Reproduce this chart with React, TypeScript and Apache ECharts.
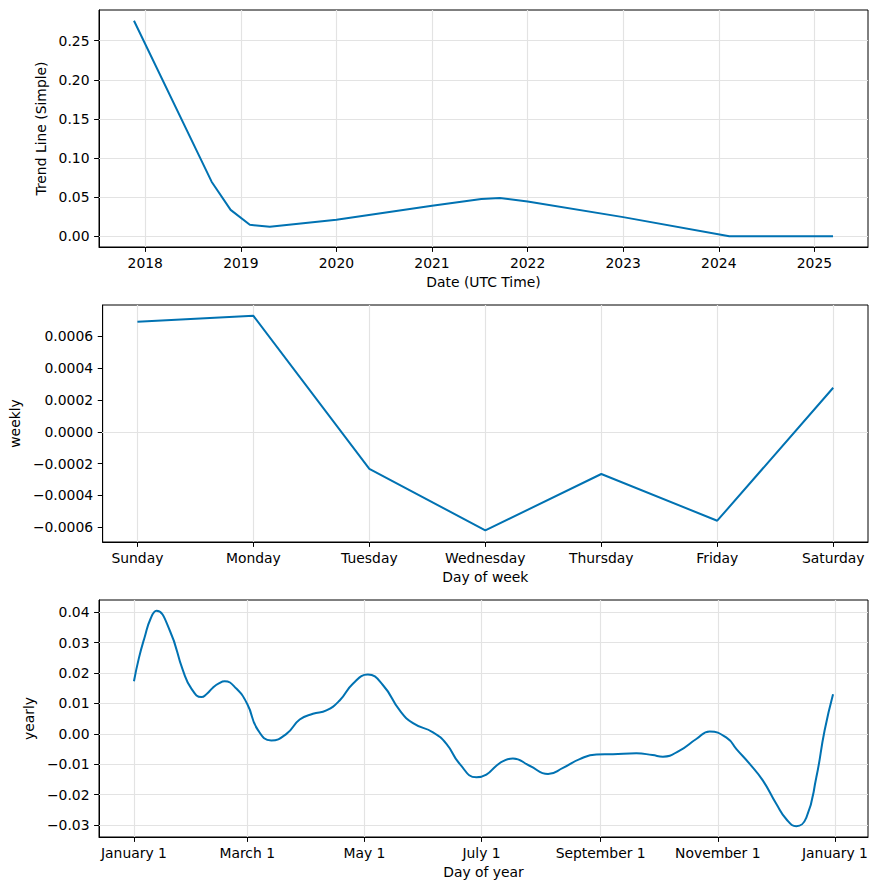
import React, { useEffect, useRef } from 'react';
import * as echarts from 'echarts';

// ---- Trend (top) ----
const trendYears = [2017.882, 2018.694, 2018.893, 2019.094, 2019.303, 2020.0, 2021.0, 2021.516, 2021.71, 2022.0, 2023.0, 2024.11, 2025.195];
const trendValues = [0.2754, 0.0697, 0.0337, 0.0146, 0.0121, 0.021, 0.0388, 0.0477, 0.0488, 0.0443, 0.0244, 0.0, 0.0];
const trendXTicks = [2018, 2019, 2020, 2021, 2022, 2023, 2024, 2025];
const trendYTicks = [0, 0.05, 0.1, 0.15, 0.2, 0.25];

// ---- Weekly (middle) ----
const weekDays = ['Sunday', 'Monday', 'Tuesday', 'Wednesday', 'Thursday', 'Friday', 'Saturday'];
const weekPositions = [0, 1, 2, 3, 4, 5, 6];
const weeklyValues = [0.000692, 0.00073, -0.000233, -0.000621, -0.000266, -0.00056, 0.000277];
const weeklyYTicks = [-0.0006, -0.0004, -0.0002, 0, 0.0002, 0.0004, 0.0006];

// ---- Yearly (bottom) ----
const yearlyDays = [0, 2.6, 5.6, 8.6, 11.7, 18.6, 25.5, 29.9, 35.1, 38, 41.1, 44.2, 47.2, 53.3, 59, 64.5, 71.5, 79.4, 86.3, 93.2, 100.2, 107.1, 114, 121.8, 129.7, 138.4, 145.3, 155.7, 162.7, 169.6, 178.3, 183.5, 188.7, 192.5, 197.3, 206, 215.6, 223.4, 232.1, 240.8, 249.4, 261.6, 270, 275.4, 284.1, 292.8, 299.8, 309, 313.7, 320.6, 327.5, 334.5, 339.7, 344.9, 350.1, 355.3, 359.6, 364];
const yearlyValues = [0.0173, 0.025, 0.0319, 0.0378, 0.0405, 0.0341, 0.0209, 0.0149, 0.0121, 0.0132, 0.0152, 0.0166, 0.0173, 0.0149, 0.0098, 0.0013, -0.0022, 0.0, 0.0047, 0.0066, 0.0077, 0.011, 0.0165, 0.0195, 0.016, 0.0077, 0.0035, 0.0005, -0.0033, -0.0099, -0.0143, -0.0134, -0.0105, -0.0089, -0.0081, -0.0105, -0.0132, -0.0112, -0.0083, -0.0068, -0.0067, -0.0064, -0.007, -0.0075, -0.0055, -0.0017, 0.0008, -0.0015, -0.005, -0.0099, -0.0154, -0.0231, -0.0281, -0.0304, -0.0276, -0.0143, 0.0011, 0.013];
const yearlyTickDays = [0, 59, 120, 181, 243, 304, 365];
const yearlyTickLabels = ['January 1', 'March 1', 'May 1', 'July 1', 'September 1', 'November 1', 'January 1'];
const yearlyYTicks = [-0.03, -0.02, -0.01, 0, 0.01, 0.02, 0.03, 0.04];

const FONT = 'DejaVu Sans';
const FS = 13.9;
const LINE = '#0072B2';
const GRIDLINE = '#e3e3e3';

function fmt(v: number, d: number) {
  const s = Math.abs(v).toFixed(d);
  return (v < -1e-12 ? '\u2212' : '') + s;
}

function xAxisBase(grid: number, min: number, max: number, ticks: number[], name: string, fmtFn: (v: number) => string) {
  return {
    type: 'value',
    gridIndex: grid,
    min,
    max,
    name,
    nameLocation: 'middle',
    nameGap: 28,
    nameTextStyle: { color: '#000', fontFamily: FONT, fontSize: FS },
    axisLine: { show: true, onZero: false, lineStyle: { color: '#000', width: 1 } },
    axisTick: { show: true, length: 4.9, lineStyle: { color: '#000', width: 1 }, customValues: ticks },
    axisLabel: { color: '#000', fontFamily: FONT, fontSize: FS, margin: 9, customValues: ticks, formatter: fmtFn, showMinLabel: true, showMaxLabel: true, hideOverlap: false },
    splitLine: { show: false },
  };
}

function yAxisBase(grid: number, min: number, max: number, ticks: number[], name: string, nameGap: number, fmtFn: (v: number) => string) {
  return {
    type: 'value',
    gridIndex: grid,
    min,
    max,
    name,
    nameLocation: 'middle',
    nameGap,
    nameTextStyle: { color: '#000', fontFamily: FONT, fontSize: FS },
    axisLine: { show: true, onZero: false, lineStyle: { color: '#000', width: 1 } },
    axisTick: { show: true, length: 4.9, lineStyle: { color: '#000', width: 1 }, customValues: ticks },
    axisLabel: { color: '#000', fontFamily: FONT, fontSize: FS, margin: 9.5, customValues: ticks, formatter: fmtFn },
    splitLine: { show: false },
  };
}

function gridLines(xTicks: number[], yTicks: number[]) {
  return {
    silent: true,
    symbol: 'none',
    z: 1,
    animation: false,
    label: { show: false },
    emphasis: { disabled: true },
    lineStyle: { color: GRIDLINE, width: 1.2, type: 'solid', opacity: 1 },
    data: [...xTicks.map((v) => ({ xAxis: v })), ...yTicks.map((v) => ({ yAxis: v }))],
  };
}

export default function App() {
  const ref = useRef<HTMLDivElement>(null);
  useEffect(() => {
    if (!ref.current) return;
    const chart = echarts.init(ref.current, undefined, { renderer: 'svg' });
    const gridCommon = { left: 99, right: 10, height: 237, show: true, borderColor: '#000', borderWidth: 1, containLabel: false };
    chart.setOption({
      animation: false,
      backgroundColor: '#fff',
      textStyle: { fontFamily: FONT },
      grid: [
        { ...gridCommon, top: 10 },
        { ...gridCommon, top: 305 },
        { ...gridCommon, top: 600 },
      ],
      xAxis: [
        xAxisBase(0, 2017.516, 2025.561, trendXTicks, 'Date (UTC Time)', (v: number) => String(Math.round(v))),
        xAxisBase(1, -0.3, 6.3, weekPositions, 'Day of week', (v: number) => weekDays[Math.round(v)] ?? ''),
        xAxisBase(2, -18.2, 382.2, yearlyTickDays, 'Day of year', (v: number) => {
          const i = yearlyTickDays.indexOf(Math.round(v));
          return i >= 0 ? yearlyTickLabels[i] : '';
        }),
      ],
      yAxis: [
        yAxisBase(0, -0.0138, 0.2892, trendYTicks, 'Trend Line (Simple)', 44, (v: number) => fmt(v, 2)),
        yAxisBase(1, -0.000694, 0.000798, weeklyYTicks, 'weekly', 75, (v: number) => fmt(v, 4)),
        yAxisBase(2, -0.03395, 0.04405, yearlyYTicks, 'yearly', 57, (v: number) => fmt(v, 2)),
      ],
      series: [
        {
          type: 'line', xAxisIndex: 0, yAxisIndex: 0, showSymbol: false, symbol: 'none', z: 3,
          data: trendYears.map((x, i) => [x, trendValues[i]]),
          lineStyle: { color: LINE, width: 2 },
          markLine: gridLines(trendXTicks, trendYTicks),
        },
        {
          type: 'line', xAxisIndex: 1, yAxisIndex: 1, showSymbol: false, symbol: 'none', z: 3,
          data: weeklyValues.map((v, i) => [weekPositions[i], v]),
          lineStyle: { color: LINE, width: 2 },
          markLine: gridLines(weekPositions, weeklyYTicks),
        },
        {
          type: 'line', xAxisIndex: 2, yAxisIndex: 2, showSymbol: false, symbol: 'none', smooth: 0.5, z: 3,
          data: yearlyDays.map((d, i) => [d, yearlyValues[i]]),
          lineStyle: { color: LINE, width: 2 },
          markLine: gridLines(yearlyTickDays, yearlyYTicks),
        },
      ],
    });
    return () => chart.dispose();
  }, []);
  return <div ref={ref} style={{ position: 'fixed', left: 0, top: 0, width: 878, height: 890, background: '#fff' }} />;
}
